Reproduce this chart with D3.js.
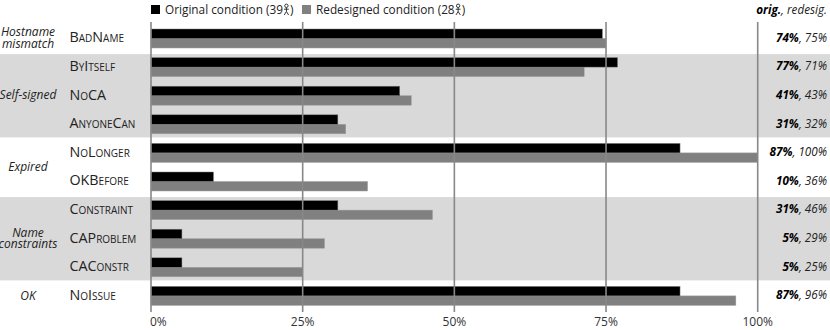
<!DOCTYPE html>
<html>
<head>
<meta charset="utf-8">
<script src="https://cdn.jsdelivr.net/npm/d3@7"></script>
<style>
  html, body { margin: 0; padding: 0; background: #fff; }
  text { font-family: "Open Sans", sans-serif; fill: #222; }
  .test { font-variant: small-caps; font-size: 14.3px; }
  .group { font-style: italic; font-size: 12px; }
  .pct { font-style: italic; font-size: 11.7px; }
  .tick-label { font-size: 12px; fill: #333; }
  .legend { font-size: 11.8px; }
</style>
</head>
<body>
<div id="chart"></div>
<script>
const tests = ["BadName", "ByItself", "NoCA", "AnyoneCan", "NoLonger", "OKBefore", "Constraint", "CAProblem", "CAConstr", "NoIssue"];
const original = [74.4, 76.9, 41.0, 30.8, 87.2, 10.3, 30.8, 5.1, 5.1, 87.2];
const redesigned = [75.0, 71.4, 42.9, 32.1, 100, 35.7, 46.4, 28.6, 25.0, 96.4];
const originalLabels = ["74%", "77%", "41%", "31%", "87%", "10%", "31%", "5%", "5%", "87%"];
const redesignedLabels = ["75%", "71%", "43%", "32%", "100%", "36%", "46%", "29%", "25%", "96%"];
const groupNames = [["Hostname", "mismatch"], ["Self-signed"], ["Expired"], ["Name", "constraints"], ["OK"]];
const groupSizes = [1, 3, 2, 3, 1];
const ticks = [0, 25, 50, 75, 100];

const width = 830, height = 330;
const svg = d3.select("#chart").append("svg")
  .attr("width", width).attr("height", height).style("display", "block");

const x = d3.scaleLinear().domain([0, 100]).range([151, 757.7]);
const y = d3.scaleBand().domain(tests).range([25.5, 311.5]);
const barH = 9.5;

// alternating group bands
let start = 0;
const groups = groupNames.map((lines, i) => {
  const g = { lines, first: start, last: start + groupSizes[i] - 1, shaded: i % 2 === 1 };
  start += groupSizes[i];
  return g;
});
const groupTop = g => y(tests[g.first]);
const groupBottom = g => y(tests[g.last]) + y.bandwidth() - 2.5;

svg.append("g").selectAll("rect")
  .data(groups.filter(g => g.shaded))
  .join("rect")
    .attr("x", 0)
    .attr("width", width)
    .attr("y", groupTop)
    .attr("height", g => groupBottom(g) - groupTop(g))
    .attr("fill", "#d9d9d9");

// bars
const rows = tests.map((t, i) => ({ t, o: original[i], r: redesigned[i], ol: originalLabels[i], rl: redesignedLabels[i] }));
const mid = d => y(d.t) + y.bandwidth() / 2 - 1.3;

svg.append("g").selectAll("rect")
  .data(rows)
  .join("rect")
    .attr("x", x(0))
    .attr("y", mid)
    .attr("width", d => x(d.r) - x(0))
    .attr("height", barH)
    .attr("fill", "#808080")
    .attr("stroke", "#a0a0a0")
    .attr("stroke-width", 0.5);

svg.append("g").selectAll("rect")
  .data(rows)
  .join("rect")
    .attr("x", x(0))
    .attr("y", d => mid(d) - barH)
    .attr("width", d => x(d.o) - x(0))
    .attr("height", barH)
    .attr("fill", "#000")
    .attr("stroke", "#808080")
    .attr("stroke-width", 0.5);

// grid lines over the bars
svg.append("g").selectAll("line")
  .data(ticks)
  .join("line")
    .attr("x1", d => x(d)).attr("x2", d => x(d))
    .attr("y1", 22).attr("y2", 312)
    .attr("stroke", "#888")
    .attr("stroke-width", 1.6);

svg.append("g").selectAll("text")
  .data(ticks)
  .join("text")
    .attr("class", "tick-label")
    .attr("x", d => d === 0 ? 150 : x(d))
    .attr("y", 326)
    .attr("text-anchor", d => d === 0 ? "start" : "middle")
    .text(d => d + "%");

// test names
svg.append("g").selectAll("text")
  .data(rows)
  .join("text")
    .attr("class", "test")
    .attr("x", 69.5)
    .attr("y", d => mid(d) + 3.8)
    .text(d => d.t);

// group names
svg.append("g").selectAll("text")
  .data(groups)
  .join("text")
    .attr("class", "group")
    .attr("text-anchor", "middle")
    .attr("y", g => (groupTop(g) + groupBottom(g)) / 2 + 3.7 - (g.lines.length - 1) * 5.8)
    .selectAll("tspan")
    .data(g => g.lines)
    .join("tspan")
      .attr("x", 28)
      .attr("dy", (d, i) => i ? 11.6 : 0)
      .text(d => d);

// percentages on the right
const pct = svg.append("g").selectAll("text")
  .data(rows)
  .join("text")
    .attr("class", "pct")
    .attr("x", 827)
    .attr("y", d => mid(d) + 3.2)
    .attr("text-anchor", "end");
pct.append("tspan").attr("font-weight", 700).attr("fill", "#000").text(d => d.ol);
pct.append("tspan").text(d => ", " + d.rl);

const head = svg.append("text").attr("class", "pct").attr("x", 827).attr("y", 14).attr("text-anchor", "end");
head.append("tspan").attr("font-weight", 700).attr("fill", "#000").text("orig.");
head.append("tspan").text(", redesig.");

// legend: square, label, stick figures, closing bracket
function legendItem(left, color, label) {
  const g = svg.append("g");
  g.append("rect").attr("x", left).attr("y", 5).attr("width", 9).attr("height", 9).attr("fill", color);
  const t = g.append("text").attr("class", "legend").attr("x", left + 14).attr("y", 13.5).text(label);
  const end = left + 14 + t.node().getComputedTextLength();
  const cx = end + 3.5;
  const icon = g.append("g").attr("fill", "none").attr("stroke", "#222").attr("stroke-width", 0.9);
  icon.append("circle").attr("cx", cx).attr("cy", 5.8).attr("r", 1.7);
  icon.append("path").attr("d", `M${cx},7.5V11.5M${cx - 2.4},9.2H${cx + 2.4}M${cx - 2.2},15L${cx},11.5L${cx + 2.2},15`);
  g.append("text").attr("class", "legend").attr("x", end + 7).attr("y", 13.5).text(")");
}

legendItem(151, "#000", "Original condition (39");
legendItem(302, "#808080", "Redesigned condition (28");
</script>
</body>
</html>
